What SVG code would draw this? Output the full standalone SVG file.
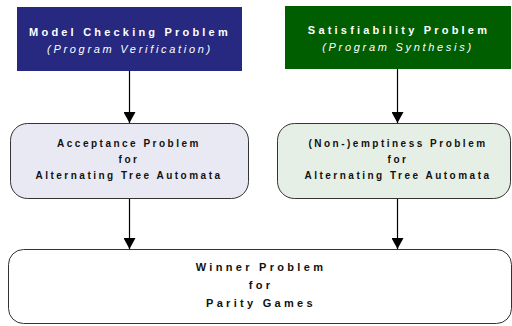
<svg xmlns="http://www.w3.org/2000/svg" width="512" height="326" viewBox="0 0 512 326">
<style>
.t{font-family:"Liberation Sans",Arial,sans-serif;font-weight:bold;text-anchor:middle}
.top{font-size:11px;letter-spacing:3.2px;fill:#ffffff}
.it{font-family:"Liberation Sans",Arial,sans-serif;font-style:italic;font-size:11px;letter-spacing:2.7px;fill:#ffffff;text-anchor:middle}
.mid{font-size:10px;letter-spacing:2.5px;fill:#111111}
.bot{font-size:11px;letter-spacing:3.3px;fill:#111111}
.conn{stroke:#000;stroke-width:1.2;fill:none}
</style>
<defs>
<marker id="ah" markerUnits="userSpaceOnUse" markerWidth="12" markerHeight="12" refX="11" refY="6" orient="auto">
<path d="M0,0 L11,6 L0,12 Z" fill="#000"/>
</marker>
</defs>
<rect width="512" height="326" fill="#fff"/>
<g id="model-checking">
<rect x="17" y="7" width="225" height="64" fill="#27287f"/>
<text class="t top" x="130" y="36">Model Checking Problem</text>
<text class="it" x="130" y="53">(Program Verification)</text>
</g>
<g id="satisfiability">
<rect x="285" y="6" width="226" height="63" fill="#005e00"/>
<text class="t top" x="399" y="34">Satisfiability Problem</text>
<text class="it" x="398" y="51">(Program Synthesis)</text>
</g>
<g id="acceptance">
<rect x="10.5" y="123.5" width="238" height="75" rx="17" ry="17" fill="#e9e9f3" stroke="#333" stroke-width="1"/>
<text class="t mid" x="129" y="147">Acceptance Problem</text>
<text class="t mid" x="129" y="163">for</text>
<text class="t mid" x="129" y="179">Alternating Tree Automata</text>
</g>
<g id="emptiness">
<rect x="277.5" y="123.5" width="233" height="75" rx="17" ry="17" fill="#e6efe6" stroke="#333" stroke-width="1"/>
<text class="t mid" x="398" y="147">(Non-)emptiness Problem</text>
<text class="t mid" x="398" y="163">for</text>
<text class="t mid" x="398" y="179">Alternating Tree Automata</text>
</g>
<g id="winner">
<rect x="8.5" y="249.5" width="503" height="74" rx="15" ry="15" fill="#fff" stroke="#333" stroke-width="1"/>
<text class="t bot" x="261" y="271">Winner Problem</text>
<text class="t bot" x="261" y="289">for</text>
<text class="t bot" x="261" y="307">Parity Games</text>
</g>
<g id="connectors">
<line class="conn" x1="129.5" y1="71" x2="129.5" y2="123" marker-end="url(#ah)"/>
<line class="conn" x1="397.5" y1="69" x2="397.5" y2="123" marker-end="url(#ah)"/>
<line class="conn" x1="129.5" y1="199" x2="129.5" y2="249" marker-end="url(#ah)"/>
<line class="conn" x1="397.5" y1="199" x2="397.5" y2="249" marker-end="url(#ah)"/>
</g>
</svg>
